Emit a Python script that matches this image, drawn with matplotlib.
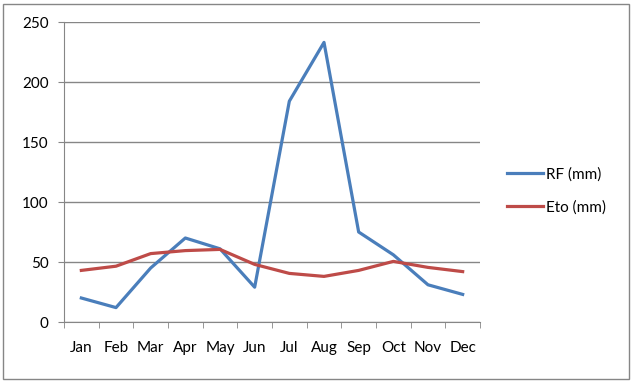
import matplotlib.pyplot as plt
from matplotlib.patches import Rectangle

months = ["Jan", "Feb", "Mar", "Apr", "May", "Jun", "Jul", "Aug", "Sep", "Oct", "Nov", "Dec"]
rf = [20, 12, 45, 70, 61, 29, 184, 233, 75, 56, 31, 23]
eto = [43, 46.5, 57, 59.5, 60.5, 48, 40.5, 38, 43, 50.5, 45.5, 42]

plt.rcParams['font.family'] = ['Lato', 'DejaVu Sans']

fig = plt.figure(figsize=(6.32, 3.83), dpi=100)
# chart border
fig.patches.append(Rectangle((3 / 632, 4 / 383), 626 / 632, 375 / 383, transform=fig.transFigure,
                             fill=False, edgecolor='#868686', linewidth=1))

ax = fig.add_axes([64 / 632, 1 - 322 / 383, 416 / 632, 300 / 383])
x = range(len(months))
ax.plot(x, rf, color='#4A7EBB', linewidth=2.3, label='RF (mm)')
ax.plot(x, eto, color='#BE4B48', linewidth=2.3, label='Eto (mm)')

ax.set_xlim(-0.5, 11.5)
ax.set_ylim(0, 250)
ax.set_yticks(range(0, 251, 50))
ax.yaxis.grid(True, color='#868686', linewidth=1)
ax.set_axisbelow(True)
for s in ['top', 'right']:
    ax.spines[s].set_visible(False)
for s in ['left', 'bottom']:
    ax.spines[s].set_color('#868686')
ax.set_xticks(list(x))
ax.set_xticklabels(months)
ax.set_xticks([i - 0.5 for i in range(13)], minor=True)
ax.tick_params(axis='x', which='major', length=0, pad=14, labelsize=11)
ax.tick_params(axis='x', which='minor', length=4, color='#868686')
ax.tick_params(axis='y', length=4, color='#868686', pad=7, labelsize=11)

ax.legend(loc='center left', bbox_to_anchor=(1.031, 0.437), frameon=False, fontsize=11,
          handlelength=2.4, labelspacing=1.25, handletextpad=0.2)

fig.savefig('out.png', dpi=100)
